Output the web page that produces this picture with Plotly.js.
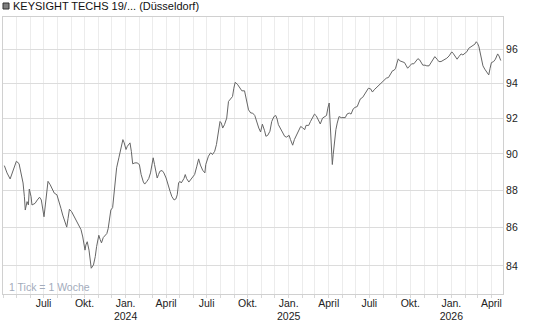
<!DOCTYPE html>
<html><head><meta charset="utf-8">
<script src="https://cdn.plot.ly/plotly-3.0.1.min.js"></script>
<style>html,body{margin:0;padding:0;background:#fff}#chart{width:545px;height:327px}</style>
</head><body><div id="chart"></div>
<script>
const dates = [
'2023-04-04','2023-04-10','2023-04-17','2023-04-25','2023-05-01','2023-05-07','2023-05-11','2023-05-16','2023-05-19','2023-05-21',
'2023-05-25','2023-05-28','2023-05-30','2023-06-03','2023-06-05','2023-06-12','2023-06-17','2023-06-22','2023-06-26','2023-06-29',
'2023-07-02','2023-07-05','2023-07-08','2023-07-11','2023-07-16','2023-07-20','2023-07-25','2023-07-31','2023-08-04','2023-08-09',
'2023-08-13','2023-08-18','2023-08-22','2023-08-25','2023-08-28','2023-09-02','2023-09-06','2023-09-12','2023-09-18','2023-09-23',
'2023-09-27','2023-10-02','2023-10-04','2023-10-07','2023-10-11','2023-10-13','2023-10-16','2023-10-21','2023-10-25','2023-10-28',
'2023-11-02','2023-11-05','2023-11-08','2023-11-12','2023-11-16','2023-11-20','2023-11-23','2023-11-26','2023-11-29','2023-12-03',
'2023-12-06','2023-12-09','2023-12-12','2023-12-17','2023-12-21','2023-12-26','2023-12-29',
'2024-01-02','2024-01-05','2024-01-08','2024-01-11','2024-01-14','2024-01-17','2024-01-22','2024-01-27','2024-02-01','2024-02-05',
'2024-02-10','2024-02-13','2024-02-18','2024-02-22','2024-02-26','2024-02-29','2024-03-03','2024-03-06','2024-03-09','2024-03-12',
'2024-03-15','2024-03-18','2024-03-23','2024-03-27','2024-04-01','2024-04-05','2024-04-10','2024-04-14','2024-04-19','2024-04-23',
'2024-04-26','2024-04-29','2024-05-02','2024-05-05','2024-05-08','2024-05-11','2024-05-14','2024-05-17','2024-05-22','2024-05-26',
'2024-05-31','2024-06-04','2024-06-09','2024-06-13','2024-06-17','2024-06-22','2024-06-27','2024-06-29','2024-07-05','2024-07-10',
'2024-07-14','2024-07-19','2024-07-23','2024-07-28','2024-07-31','2024-08-03','2024-08-06','2024-08-10','2024-08-15','2024-08-19',
'2024-08-24','2024-08-28','2024-08-31','2024-09-03','2024-09-08','2024-09-12','2024-09-18','2024-09-24','2024-09-29','2024-10-03',
'2024-10-08','2024-10-12','2024-10-17','2024-10-21','2024-10-26','2024-10-30','2024-11-03','2024-11-08','2024-11-11','2024-11-15',
'2024-11-20','2024-11-24','2024-11-29','2024-12-03','2024-12-06','2024-12-09','2024-12-14','2024-12-18','2024-12-23','2024-12-27',
'2025-01-02','2025-01-05','2025-01-10','2025-01-14','2025-01-19','2025-01-23','2025-01-28','2025-02-01','2025-02-06','2025-02-09',
'2025-02-15','2025-02-19','2025-02-24','2025-02-28','2025-03-04','2025-03-09','2025-03-13','2025-03-18','2025-03-22','2025-03-27',
'2025-03-30','2025-04-02','2025-04-03','2025-04-05','2025-04-07','2025-04-09','2025-04-11','2025-04-14','2025-04-17','2025-04-20',
'2025-04-24','2025-04-29','2025-05-03','2025-05-08','2025-05-12','2025-05-17','2025-05-21','2025-05-26','2025-05-30','2025-06-04',
'2025-06-07','2025-06-11','2025-06-16','2025-06-20','2025-06-25','2025-06-29','2025-07-04','2025-07-08','2025-07-12','2025-07-17',
'2025-07-21','2025-07-26','2025-07-30','2025-08-03','2025-08-08','2025-08-13','2025-08-17','2025-08-22','2025-08-26','2025-08-29',
'2025-09-01','2025-09-04','2025-09-07','2025-09-12','2025-09-18','2025-09-22','2025-09-25','2025-09-30','2025-10-04','2025-10-09',
'2025-10-13','2025-10-18','2025-10-22','2025-10-25','2025-10-29','2025-11-03','2025-11-07','2025-11-12','2025-11-16','2025-11-21',
'2025-11-25','2025-11-30','2025-12-04','2025-12-09','2025-12-13','2025-12-18','2025-12-22','2025-12-27','2025-12-30',
'2026-01-02','2026-01-05','2026-01-09','2026-01-14','2026-01-18','2026-01-23','2026-01-27','2026-02-01','2026-02-05','2026-02-09',
'2026-02-14','2026-02-18','2026-02-23','2026-02-26','2026-03-01','2026-03-04','2026-03-07','2026-03-10','2026-03-13','2026-03-17',
'2026-03-22','2026-03-26','2026-03-29','2026-04-01','2026-04-06','2026-04-10','2026-04-15','2026-04-18','2026-04-22'
];
const prices = [
89.35,88.95,88.62,89.13,89.59,89.46,89.04,88.40,87.66,86.94,
87.39,87.21,88.07,87.66,87.21,87.30,87.48,87.63,87.48,87.12,
86.58,87.21,87.85,88.49,88.30,88.07,87.85,87.76,87.48,87.03,
86.67,86.30,86.03,86.49,86.98,86.85,86.67,86.40,86.07,85.90,
85.51,84.82,85.09,85.26,84.82,84.31,83.88,84.05,84.48,85.00,
85.60,85.38,85.20,85.48,85.62,85.69,85.95,86.49,86.94,87.07,
87.76,88.67,89.23,89.78,90.33,90.79,90.61,
90.24,90.42,90.52,90.61,90.14,89.45,89.50,89.50,89.41,88.86,
88.45,88.34,88.49,88.64,88.95,89.41,89.78,89.41,89.04,88.67,
88.86,89.04,89.08,88.95,88.67,88.30,87.94,87.66,87.48,87.54,
87.76,88.40,88.49,88.40,88.49,88.64,88.86,88.64,88.45,88.58,
88.71,88.86,89.32,89.72,89.38,89.10,88.95,89.41,89.87,90.06,
89.96,90.14,90.52,91.26,91.81,91.72,91.44,91.63,92.00,92.95,
93.10,93.23,93.71,94.05,93.94,93.81,93.56,93.56,92.95,92.47,
92.29,92.29,92.15,91.81,91.44,91.22,91.66,91.29,90.98,91.03,
91.26,91.81,92.09,92.15,91.96,91.63,91.41,91.22,90.98,90.93,
91.03,90.80,90.48,90.80,91.03,91.22,91.53,91.46,91.35,91.59,
91.59,91.81,92.09,92.23,92.13,91.91,91.67,92.00,92.09,92.15,
92.57,92.86,92.29,91.16,89.96,89.41,89.96,90.89,91.35,91.72,
92.09,92.03,92.03,92.03,92.23,92.29,92.23,92.53,92.61,92.66,
92.86,93.10,93.18,93.33,93.56,93.71,93.67,93.49,93.62,93.75,
93.81,93.94,94.06,94.18,94.29,94.33,94.53,94.72,94.76,94.87,
95.17,95.42,95.31,95.25,95.20,95.01,94.87,95.01,95.13,95.13,
95.26,95.43,95.36,95.20,95.05,95.05,95.01,95.01,95.17,95.36,
95.55,95.40,95.26,95.26,95.32,95.40,95.46,95.59,95.75,
95.83,95.75,95.59,95.40,95.55,95.71,95.65,95.78,95.84,96.04,
96.13,96.17,96.29,96.43,96.33,96.13,95.75,95.26,95.01,94.82,
94.62,94.48,94.87,95.20,95.26,95.40,95.71,95.59,95.32
];
const yTickValues = [84, 86, 88, 90, 92, 94, 96];
const yTickLabels = ['84', '86', '88', '90', '92', '94', '96'];
const quarterLabels = {0: 'Jan.', 3: 'April', 6: 'Juli', 9: 'Okt.'};
const seriesName = 'KEYSIGHT TECHS 19/... (Düsseldorf)';
const noteText = '1 Tick = 1 Woche';
const xStart = '2023-04-01', xEnd = '2026-04-27';

const xTickVals = [], xTickText = [];
for (let y = 2023; y <= 2026; y++) {
  for (let m = 0; m < 12; m++) {
    const s = y + '-' + String(m + 1).padStart(2, '0') + '-01';
    if (s < xStart || s > xEnd) continue;
    xTickVals.push(s);
    let t = '';
    if (quarterLabels[m] !== undefined && s !== xStart) {
      t = m === 0 ? quarterLabels[m] + '<br>' + y : quarterLabels[m];
    }
    xTickText.push(t);
  }
}

const FONT = 'Liberation Sans, Arial, sans-serif';

const trace = {
  x: dates, y: prices, type: 'scatter', mode: 'lines',
  line: {color: '#666666', width: 1}, hoverinfo: 'skip', showlegend: false
};

const layout = {
  width: 545, height: 327,
  margin: {l: 3, r: 42, t: 17, b: 33, pad: 0},
  paper_bgcolor: '#ffffff', plot_bgcolor: '#ffffff',
  font: {family: FONT, size: 10.5, color: '#222'},
  hovermode: false,
  xaxis: {
    type: 'date', range: [xStart, xEnd],
    tickmode: 'array', tickvals: xTickVals, ticktext: xTickText,
    showgrid: true, gridcolor: '#ececec', gridwidth: 1,
    showline: true, mirror: true, linecolor: '#d0d0d0', linewidth: 1,
    ticks: 'outside', ticklen: 3, tickcolor: '#d8d8d8',
    ticklabelstandoff: -4,
    tickfont: {family: FONT, size: 10.5, color: '#222'},
    zeroline: false, fixedrange: true
  },
  yaxis: {
    type: 'log', side: 'right',
    range: [Math.log10(82.56), Math.log10(97.91)],
    tickmode: 'array', tickvals: yTickValues, ticktext: yTickLabels,
    showgrid: true, gridcolor: '#dcdcdc', gridwidth: 1,
    showline: true, mirror: true, linecolor: '#d0d0d0', linewidth: 1,
    ticks: '', tickfont: {family: FONT, size: 10.5, color: '#222'},
    zeroline: false, fixedrange: true
  },
  shapes: [{
    type: 'rect', xref: 'paper', yref: 'paper',
    xsizemode: 'pixel', ysizemode: 'pixel', xanchor: 0, yanchor: 1,
    x0: 0, x1: 6, y0: 8, y1: 14,
    fillcolor: '#808080', line: {color: '#333333', width: 1}
  }],
  annotations: [
    {text: seriesName, xref: 'paper', yref: 'paper', x: 0, y: 1,
     xanchor: 'left', yanchor: 'middle', xshift: 8, yshift: 11, showarrow: false,
     font: {family: FONT, size: 11, color: '#111'}},
    {text: noteText, xref: 'paper', yref: 'paper', x: 0, y: 0,
     xanchor: 'left', yanchor: 'middle', xshift: 4, yshift: 7, showarrow: false,
     font: {family: FONT, size: 10.5, color: '#a3abbb'}}
  ]
};

Plotly.newPlot('chart', [trace], layout, {displayModeBar: false, staticPlot: true});
</script></body></html>
